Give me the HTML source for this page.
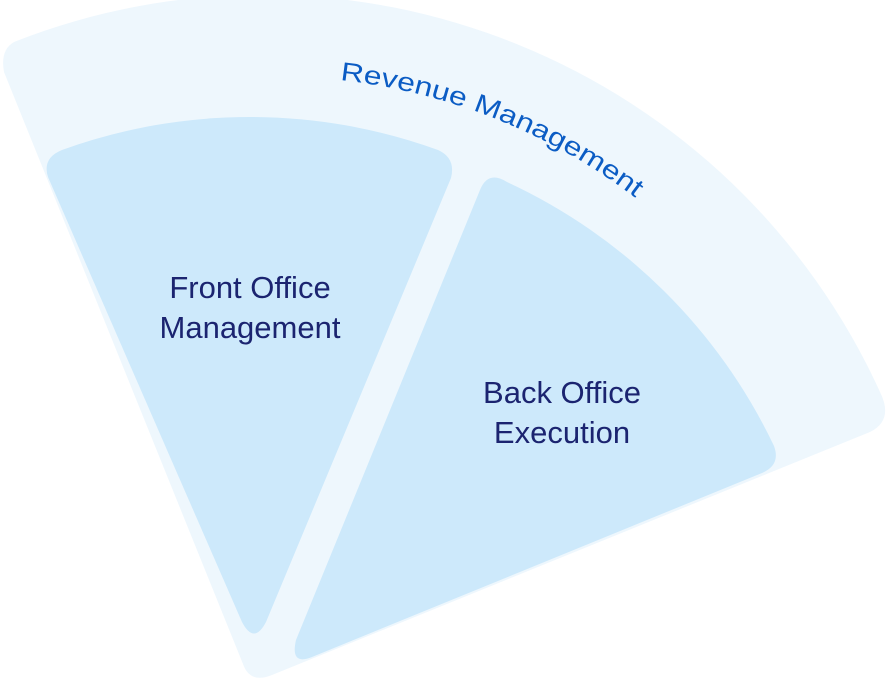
<!DOCTYPE html>
<html><head><meta charset="utf-8"><style>
html,body{margin:0;padding:0;background:#fff;width:889px;height:679px;overflow:hidden}
svg{display:block}
</style></head><body>
<svg width="889" height="679" viewBox="0 0 889 679" xmlns="http://www.w3.org/2000/svg">
<path d="M14,42 A678 678 0 0 1 880,392 Q894,420 870,432 L272,675 Q250,684 243,664 L4,72 Q0,50 14,42 Z" fill="#eef7fd"/>
<path d="M62,150 A552 552 0 0 1 438,150 Q456,158 451,178 L266,622 Q254,645 242,622 L48,177 Q42,158 62,150 Z" fill="#cde9fb"/>
<path d="M480,190 Q488,170 507,182 A552 552 0 0 1 774,446 Q781,465 762,473 L312,657 Q290,666 296,640 Z" fill="#cde9fb"/>
<defs><path id="arc" d="M340,80 A597 597 0 0 1 800,390"/></defs>
<text font-family="Liberation Sans, sans-serif" font-size="26" fill="#0b5cc4"><textPath href="#arc" textLength="322" lengthAdjust="spacingAndGlyphs">Revenue Management</textPath></text>
<g font-family="Liberation Sans, sans-serif" font-size="31" fill="#1b2470" text-anchor="middle">
<text x="250" y="298">Front Office</text>
<text x="250" y="338">Management</text>
<text x="562" y="403">Back Office</text>
<text x="562" y="443">Execution</text>
</g>
</svg>
</body></html>
